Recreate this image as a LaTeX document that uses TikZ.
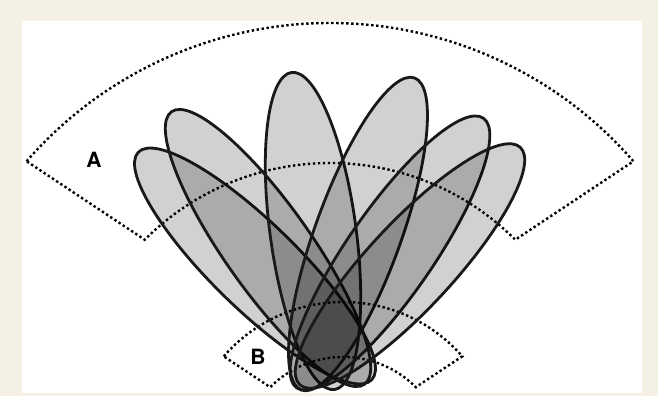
\documentclass[tikz,border=0pt]{standalone}
\usepackage{fontspec}
\setsansfont{TeX Gyre Heros}
\usetikzlibrary{calc, shapes.geometric}
\definecolor{paper}{RGB}{244,241,228}
\begin{document}
\begin{tikzpicture}[
    x=1pt, y=1pt,
    lobe/.style ={ellipse, draw=black!90, line width=2.8pt, fill=black, fill opacity=0.18, draw opacity=1, inner sep=0pt, outer sep=0pt, minimum height=86pt},
    zone/.style ={draw=black, line width=2.4pt, dash pattern=on 2.4pt off 2.6pt},
    zlabel/.style={font=\sffamily\bfseries\fontsize{21}{21}\selectfont, inner sep=0pt},
]
\useasboundingbox[fill=paper] (0,0) rectangle (658,396);
\fill[white] (22,3) rectangle (642,375);
% centres of the two zones
\coordinate (cA) at (330,-29);
\coordinate (cB) at (343,-64);
\draw[zone] ($(cA)+(139:402)$) arc[start angle=139, end angle=41, radius=402]
    -- ($(cA)+(45:262)$) arc[start angle=45, end angle=135, radius=262] -- cycle;
\draw[zone] ($(cB)+(139:158)$) arc[start angle=139, end angle=41, radius=158]
    -- ($(cB)+(45:103)$) arc[start angle=45, end angle=135, radius=103] -- cycle;
\node[zlabel] (la) at (94,236) {A};
\node[zlabel] (lb) at (258,39) {B};
% lobes
\node[lobe, minimum width=326pt, rotate=90+45.7]  (e1) at (255,130) {};
\node[lobe, minimum width=334pt, rotate=90+35.3]  (e2) at (268,148) {};
\node[lobe, minimum width=320pt, rotate=90+7.7]   (e3) at (313,165) {};
\node[lobe, minimum width=332pt, rotate=90-19.9]  (e4) at (358,162) {};
\node[lobe, minimum width=328pt, rotate=90-34.7]  (e5) at (390,143) {};
\node[lobe, minimum width=324pt, rotate=90-42.9]  (e6) at (410,130) {};
\end{tikzpicture}
\end{document}
